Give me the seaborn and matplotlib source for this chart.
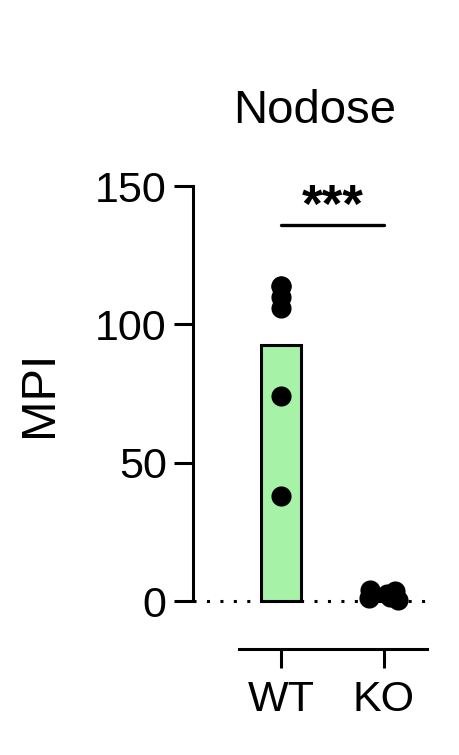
import numpy as np
import pandas as pd
import matplotlib
matplotlib.use("Agg")
import matplotlib.pyplot as plt
import seaborn as sns

sns.set_style("white")
plt.rcParams["font.family"] = ["Liberation Sans", "DejaVu Sans"]
plt.rcParams["text.color"] = "black"
plt.rcParams["axes.labelcolor"] = "black"
plt.rcParams["xtick.color"] = "black"
plt.rcParams["ytick.color"] = "black"

groups = ["WT", "KO"]
wt_mpi = [114, 114, 110, 106, 74, 38]
ko_mpi = [4.0, 3.5, 2.5, 1.5, 1.0, 0.5]
title = "Nodose"
ylabel = "MPI"
yticks = [0, 50, 100, 150]
sig_label = "***"
sig_height = 136

df = pd.DataFrame({
    "group": ["WT"] * len(wt_mpi) + ["KO"] * len(ko_mpi),
    "MPI": wt_mpi + ko_mpi,
})

fig = plt.figure(figsize=(4.6, 7.55), dpi=100)
ax = fig.add_axes([193 / 460, 1 - 649 / 755, (427 - 193) / 460, (649 - 186) / 755])

ax.axhline(0, color="black", linestyle=(0, (1, 3.4)), linewidth=2.2, zorder=0.5)
sns.barplot(ax=ax, data=df, x="group", y="MPI", order=groups, estimator="mean",
            errorbar=None, width=0.39, color="#a6f2a6", edgecolor="black",
            linewidth=2.2, saturation=1, zorder=2)
np.random.seed(42)
sns.stripplot(ax=ax, data=df[df.group == "WT"], x="group", y="MPI", order=groups,
              jitter=False, color="black", size=14.5, zorder=4)
sns.stripplot(ax=ax, data=df[df.group == "KO"], x="group", y="MPI", order=groups,
              jitter=0.15, color="black", size=14.5, zorder=4)

ax.set_xlim(-0.854, 1.42)
ax.set_ylim(-17.3, 150)
ax.set_yticks(yticks)
ax.spines["left"].set_bounds(0, 150)
ax.spines["bottom"].set_bounds(-0.41, 1.42)
for s in ["top", "right"]:
    ax.spines[s].set_visible(False)
for s in ["left", "bottom"]:
    ax.spines[s].set_linewidth(2.2)
    ax.spines[s].set_color("black")
ax.tick_params(axis="both", length=14, width=2.2, labelsize=31,
               direction="out", left=True, bottom=True)
ax.tick_params(axis="y", pad=5)
ax.tick_params(axis="x", pad=8)
ax.set_xlabel("")
ax.set_ylabel(ylabel, fontsize=35)
ax.yaxis.set_label_coords(-0.56, (75 + 17.3) / 167.3)

ax.plot([0, 1], [sig_height, sig_height], color="black", linewidth=2.4, clip_on=False)
ax.text(0.5, 142, sig_label, ha="center", va="center", fontsize=38,
        fontweight="bold")
fig.text(315 / 460, 1 - 111 / 755, title, ha="center", va="center", fontsize=34)

fig.savefig("out.png", dpi=100)
